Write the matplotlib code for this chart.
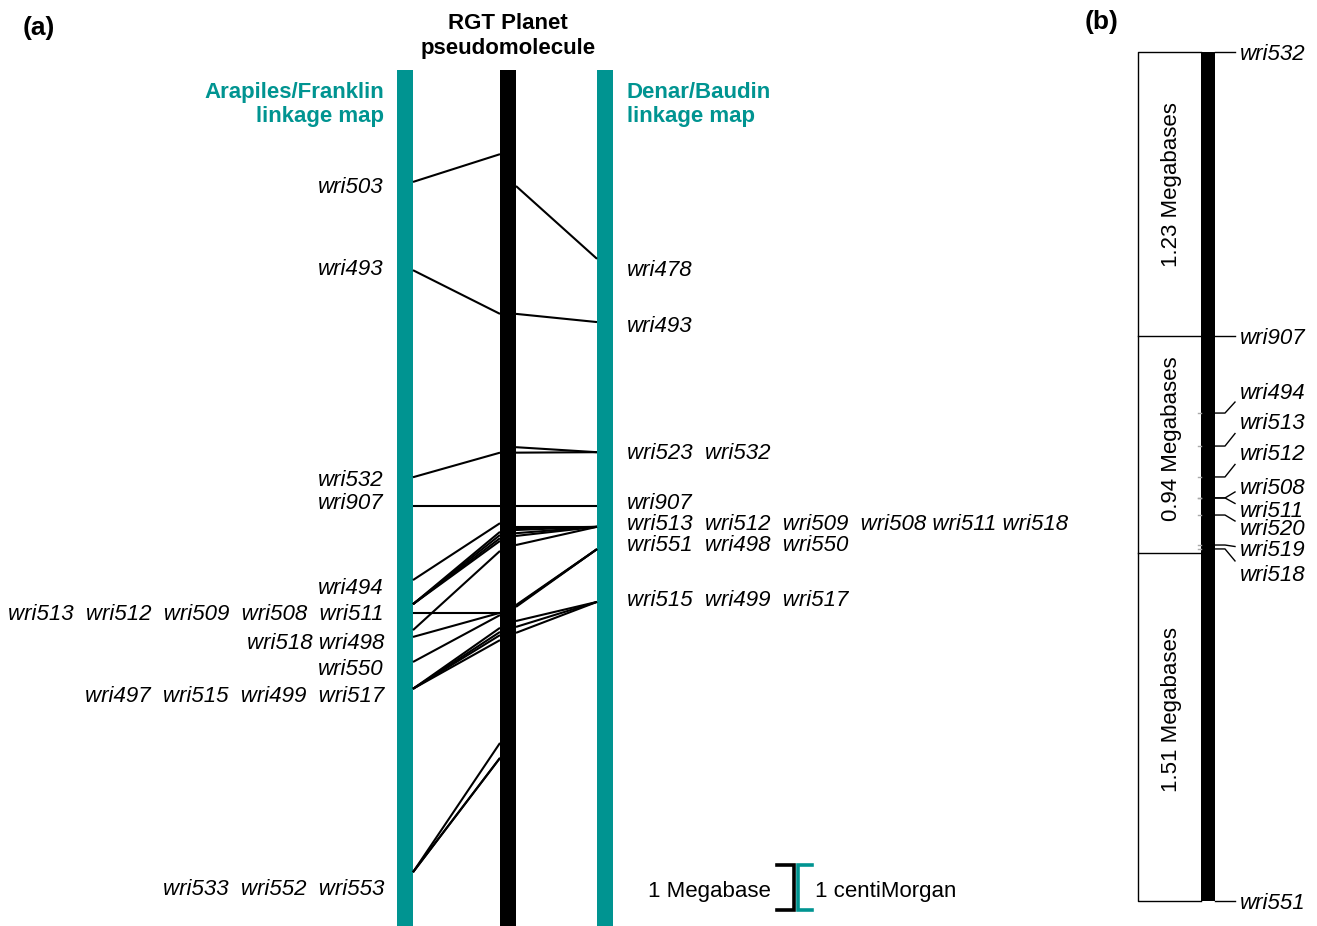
import matplotlib
matplotlib.use('Agg')
import matplotlib.pyplot as plt
from matplotlib.patches import Rectangle

plt.rcParams['font.family'] = ['Liberation Sans', 'DejaVu Sans']

TEAL = '#009491'

# ---------------- data (panel a) ----------------
# Arapiles/Franklin linkage map: marker, map position (cM), pseudomolecule position (Mb, relative)
left_markers = ['wri503', 'wri493', 'wri532', 'wri907', 'wri494',
                'wri513', 'wri512', 'wri509', 'wri508', 'wri511',
                'wri518', 'wri498', 'wri550',
                'wri497', 'wri515', 'wri499', 'wri517',
                'wri533', 'wri552', 'wri553']
left_cM = [2.46, 4.40, 8.95, 9.58, 11.21,
           11.74, 11.74, 11.74, 11.74, 11.93,
           12.31, 12.46, 13.01,
           13.60, 13.60, 13.60, 13.60,
           17.63, 17.63, 17.63]
left_Mb = [1.85, 5.36, 8.41, 9.58, 9.96,
           10.15, 10.22, 10.29, 10.35, 11.93,
           10.57, 11.93, 11.98,
           12.26, 12.35, 12.42, 12.53,
           14.79, 15.12, 15.12]

# Denar/Baudin linkage map
right_markers = ['wri478', 'wri493', 'wri523', 'wri532', 'wri907',
                 'wri513', 'wri512', 'wri509', 'wri508', 'wri511', 'wri518',
                 'wri551', 'wri498', 'wri550',
                 'wri515', 'wri499', 'wri517']
right_cM = [4.15, 5.54, 8.40, 8.40, 9.58,
            10.04, 10.04, 10.04, 10.04, 10.04, 10.04,
            10.53, 10.53, 10.53,
            11.69, 11.69, 11.69]
right_Mb = [2.55, 5.36, 8.29, 8.41, 9.58,
            10.04, 10.07, 10.11, 10.18, 10.24, 10.44,
            11.76, 11.78, 11.80,
            12.11, 12.24, 12.37]

# label rows
left_label_text = ['wri503', 'wri493', 'wri532', 'wri907', 'wri494',
                   'wri513  wri512  wri509  wri508  wri511',
                   'wri518 wri498', 'wri550',
                   'wri497  wri515  wri499  wri517',
                   'wri533  wri552  wri553']
right_label_text = ['wri478', 'wri493', 'wri523  wri532', 'wri907',
                    'wri513  wri512  wri509  wri508 wri511 wri518',
                    'wri551  wri498  wri550',
                    'wri515  wri499  wri517']

# ---------------- data (panel b) ----------------
b_markers = ['wri532', 'wri907', 'wri494', 'wri513', 'wri512', 'wri508',
             'wri511', 'wri520', 'wri519', 'wri518', 'wri551']
b_Mb = [0.0, 1.23, 1.565, 1.708, 1.842, 1.933, 1.933, 2.007, 2.137, 2.154, 3.68]
b_intervals = [1.23, 0.94, 1.51]
b_interval_labels = ['1.23 Megabases', '0.94 Megabases', '1.51 Megabases']

# ---------------- layout ----------------
W, H = 1317, 926
PX = 45.5        # pixels per cM / Mb in panel a
TOP = 70         # pixel row of chromosome tops in panel a
FS = 16

def u(px):
    return (px - TOP) / PX

BASE = 8  # px from visual centre to baseline

left_label_y = [185, 267, 478, 501, 586, 612, 641, 667, 694, 887]
right_label_y = [268, 324, 451, 501, 522, 543, 598]

fig = plt.figure(figsize=(W / 100, H / 100), dpi=100)
axa = fig.add_axes([0, 0, 1, 1])
axa.set_xlim(0, W)
axa.set_ylim(u(H), u(0))
axa.axis('off')

bottom = u(H) + 1
LX0, LX1 = 397, 413
BX0, BX1 = 500, 516
RX0, RX1 = 597, 613
axa.add_patch(Rectangle((LX0, 0), LX1 - LX0, bottom, color=TEAL, lw=0))
axa.add_patch(Rectangle((BX0, 0), BX1 - BX0, bottom, color='black', lw=0))
axa.add_patch(Rectangle((RX0, 0), RX1 - RX0, bottom, color=TEAL, lw=0))

for cm, mb in zip(left_cM, left_Mb):
    axa.plot([LX1, BX0], [cm, mb], color='black', lw=1.5, solid_capstyle='butt')
for cm, mb in zip(right_cM, right_Mb):
    axa.plot([BX1, RX0], [mb, cm], color='black', lw=1.5, solid_capstyle='butt')

for t, y in zip(left_label_text, left_label_y):
    axa.text(384, u(y + BASE), t, ha='right', va='baseline', fontsize=FS, style='italic')
for t, y in zip(right_label_text, right_label_y):
    axa.text(627, u(y + BASE), t, ha='left', va='baseline', fontsize=FS, style='italic')

# headers
axa.text(384, u(98), 'Arapiles/Franklin', ha='right', va='baseline', fontsize=FS,
         fontweight='bold', color=TEAL)
axa.text(384, u(122), 'linkage map', ha='right', va='baseline', fontsize=FS,
         fontweight='bold', color=TEAL)
axa.text(627, u(98), 'Denar/Baudin', ha='left', va='baseline', fontsize=FS,
         fontweight='bold', color=TEAL)
axa.text(627, u(122), 'linkage map', ha='left', va='baseline', fontsize=FS,
         fontweight='bold', color=TEAL)
axa.text(508, u(29), 'RGT Planet', ha='center', va='baseline', fontsize=FS,
         fontweight='bold')
axa.text(508, u(54), 'pseudomolecule', ha='center', va='baseline', fontsize=FS,
         fontweight='bold')
axa.text(23, u(35), '(a)', ha='left', va='baseline', fontsize=19, fontweight='bold')
axa.text(1085, u(29), '(b)', ha='left', va='baseline', fontsize=19, fontweight='bold')

# scale bars (1 unit each)
s0 = u(865)
axa.plot([777, 794, 794, 777], [s0, s0, s0 + 1, s0 + 1], color='black', lw=2.6,
         solid_joinstyle='miter')
axa.plot([812, 798, 798, 812], [s0, s0, s0 + 1, s0 + 1], color=TEAL, lw=2.6,
         solid_joinstyle='miter')
axa.text(771, u(889 + BASE), '1 Megabase', ha='right', va='baseline', fontsize=FS)
axa.text(815, u(889 + BASE), '1 centiMorgan', ha='left', va='baseline', fontsize=FS)

# ---------------- panel b ----------------
BT, BB = 52, 901
S = (BB - BT) / sum(b_intervals)
axb = fig.add_axes([0, 0, 1, 1])
axb.set_xlim(0, W)
axb.set_ylim((H - BT) / S, -BT / S)
axb.axis('off')
axb.patch.set_alpha(0)

total = sum(b_intervals)
bx0, bx1 = 1201, 1215
boxl = 1138
axb.add_patch(Rectangle((bx0, 0), bx1 - bx0, total, color='black', lw=0))
axb.plot([bx0, boxl, boxl, bx0], [0, 0, total, total], color='black', lw=1)
edges = [0]
for v in b_intervals:
    edges.append(edges[-1] + v)
for e in edges[1:-1]:
    axb.plot([boxl, bx0], [e, e], color='black', lw=1)
label_shift_px = [-9, -6, -17]
for i, lab in enumerate(b_interval_labels):
    yc = (edges[i] + edges[i + 1]) / 2 + label_shift_px[i] / S
    axb.text(1171, yc, lab, rotation=90, ha='center', va='center', fontsize=FS)

# label offsets (px) relative to marker position
b_label_off = [0, 0, -22, -25, -25, -12, 11, 12, 3, 24, 0]
for m, mb, off in zip(b_markers, b_Mb, b_label_off):
    lyu = mb + off / S
    axb.plot([bx1, 1225, 1235], [mb, mb, (mb + lyu) / 2], color='black', lw=1)
    if 0 < mb < total and mb not in edges:
        axb.plot([bx0 - 3, bx0], [mb, mb], color='#aaaaaa', lw=1)
    axb.text(1240, lyu + BASE / S, m, ha='left', va='baseline', fontsize=FS,
             style='italic')

fig.savefig('out.png', dpi=100)
